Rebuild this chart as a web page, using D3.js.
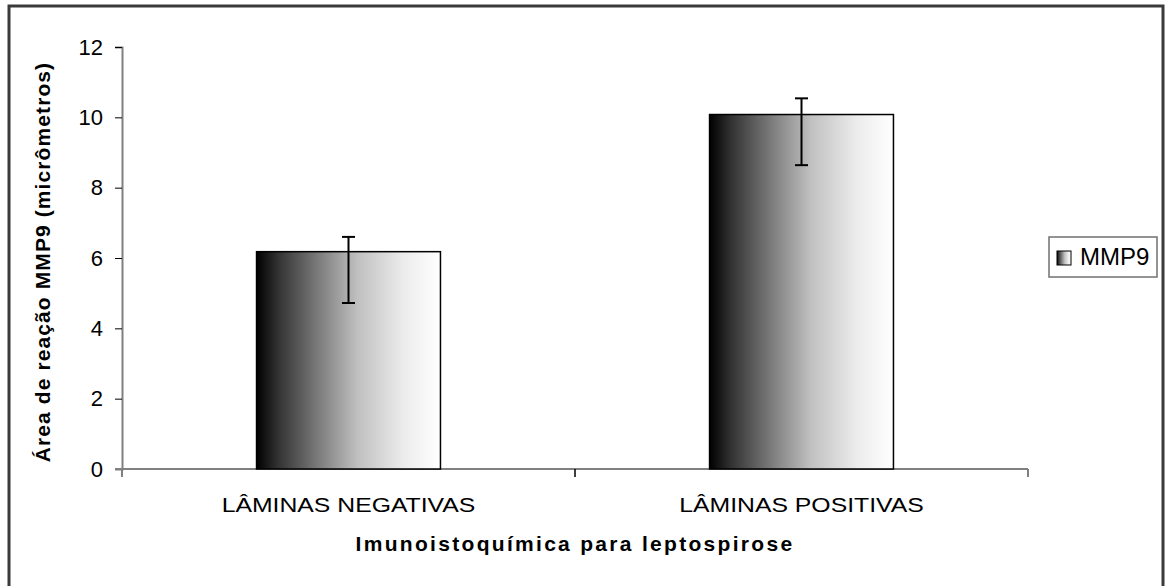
<!DOCTYPE html>
<html>
<head>
<meta charset="utf-8">
<script src="https://cdn.jsdelivr.net/npm/d3@7"></script>
<style>
  body { margin: 0; background: #fff; }
  text { font-family: "Liberation Sans", Arial, sans-serif; }
</style>
</head>
<body>
<div id="container"></div>
<script>
/* DATA */
const categories = ["LÂMINAS NEGATIVAS", "LÂMINAS POSITIVAS"];
const values = [6.18, 10.08];
const errHigh = [6.6, 10.54];
const errLow = [4.72, 8.64];
const yTicks = [0, 2, 4, 6, 8, 10, 12];
const seriesName = "MMP9";

/* CONSTANTS */
const width = 1165;
const height = 586;
const plot = { left: 122, right: 1028, top: 47, bottom: 469 };

const svg = d3.select("#container")
  .append("svg")
  .attr("width", width)
  .attr("height", height);

// outer frame
svg.append("rect")
  .attr("x", 9).attr("y", 6)
  .attr("width", 1154).attr("height", 590)
  .attr("fill", "#fff")
  .attr("stroke", "#3a3a3a")
  .attr("stroke-width", 3);

// gradient for bars
const defs = svg.append("defs");
const grad = defs.append("linearGradient")
  .attr("id", "barGrad")
  .attr("x1", "0%").attr("x2", "100%").attr("y1", "0%").attr("y2", "0%");
[[0, "#000"], [0.12, "#333"], [0.35, "#808080"], [0.55, "#c0c0c0"], [0.8, "#ececec"], [1, "#fff"]]
  .forEach(s => grad.append("stop").attr("offset", s[0]).attr("stop-color", s[1]));

/* SCALES */
const xScale = d3.scaleBand()
  .domain(categories)
  .range([plot.left, plot.right])
  .paddingInner(0.594)
  .paddingOuter(0.297);

const yScale = d3.scaleLinear()
  .domain([0, 12])
  .range([plot.bottom, plot.top]);

/* AXES */
const yAxis = svg.append("g")
  .attr("transform", `translate(${plot.left},0)`)
  .call(d3.axisLeft(yScale).tickValues(yTicks).tickSize(7).tickPadding(12));
yAxis.select(".domain").attr("stroke", "#808080").attr("stroke-width", 2);
yAxis.selectAll(".tick line").attr("stroke", "#000").attr("stroke-width", 1);
yAxis.selectAll("text").attr("font-size", "22px").attr("fill", "#000")
  .style("font-family", "'Liberation Sans', Arial, sans-serif");

// x axis line
svg.append("line")
  .attr("x1", plot.left - 7).attr("x2", plot.right)
  .attr("y1", plot.bottom).attr("y2", plot.bottom)
  .attr("stroke", "#808080").attr("stroke-width", 2);

// category boundary ticks
const step = xScale.step();
const bounds = d3.range(categories.length + 1).map(i => plot.left + i * step);
svg.selectAll(".xtick")
  .data(bounds)
  .join("line")
  .attr("class", "xtick")
  .attr("x1", d => d).attr("x2", d => d)
  .attr("y1", plot.bottom).attr("y2", plot.bottom + 8)
  .attr("stroke", (d, i) => (i === 0 || i === bounds.length - 1) ? "#808080" : "#000")
  .attr("stroke-width", (d, i) => (i === 0 || i === bounds.length - 1) ? 2 : 1.5);

// category labels (slightly wide, like the original rendering)
svg.selectAll(".xlabel")
  .data(categories)
  .join("text")
  .attr("class", "xlabel")
  .attr("transform", d => `translate(${xScale(d) + xScale.bandwidth() / 2},512) scale(1.18,1)`)
  .attr("text-anchor", "middle")
  .attr("font-size", "21px")
  .text(d => d);

/* BARS */
svg.selectAll(".bar")
  .data(values)
  .join("rect")
  .attr("class", "bar")
  .attr("x", (d, i) => xScale(categories[i]))
  .attr("y", d => yScale(d))
  .attr("width", xScale.bandwidth())
  .attr("height", d => yScale(0) - yScale(d))
  .attr("fill", "url(#barGrad)")
  .attr("stroke", "#000")
  .attr("stroke-width", 1.5);

/* ERROR BARS */
const cx = i => xScale(categories[i]) + xScale.bandwidth() / 2;
const err = svg.append("g").attr("stroke", "#000").attr("stroke-width", 2);
values.forEach((v, i) => {
  err.append("line")
    .attr("x1", cx(i)).attr("x2", cx(i))
    .attr("y1", yScale(errHigh[i])).attr("y2", yScale(errLow[i]));
  [errHigh[i], errLow[i]].forEach(e => {
    err.append("line")
      .attr("x1", cx(i) - 6.5).attr("x2", cx(i) + 6.5)
      .attr("y1", yScale(e)).attr("y2", yScale(e));
  });
});

/* AXIS TITLES */
svg.append("text")
  .attr("x", (plot.left + plot.right) / 2)
  .attr("y", 551)
  .attr("text-anchor", "middle")
  .attr("font-size", "21px")
  .attr("font-weight", "bold")
  .style("letter-spacing", "2.3px")
  .text("Imunoistoquímica para leptospirose");

svg.append("text")
  .attr("transform", "translate(50,262) rotate(-90)")
  .attr("text-anchor", "middle")
  .attr("font-size", "21px")
  .attr("font-weight", "bold")
  .style("letter-spacing", "1.1px")
  .text("Área de reação MMP9 (micrômetros)");

/* LEGEND */
const legend = svg.append("g").attr("transform", "translate(1049,237)");
legend.append("rect")
  .attr("width", 108).attr("height", 40)
  .attr("fill", "#fff")
  .attr("stroke", "#707070").attr("stroke-width", 1.5);
legend.append("rect")
  .attr("x", 8).attr("y", 14)
  .attr("width", 14).attr("height", 14)
  .attr("fill", "url(#barGrad)")
  .attr("stroke", "#000").attr("stroke-width", 1);
legend.append("text")
  .attr("x", 31).attr("y", 28)
  .attr("font-size", "24px")
  .text(seriesName);
</script>
</body>
</html>
